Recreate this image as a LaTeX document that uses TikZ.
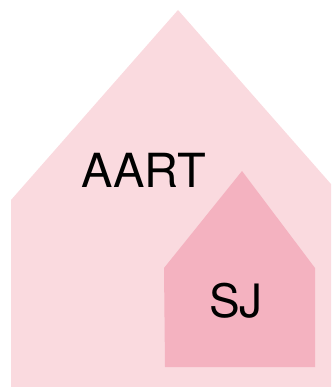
\documentclass[tikz,border=0pt]{standalone}
\usepackage{fontspec}
\setsansfont{TeX Gyre Heros}
\usepackage{tikz}
\usepackage{xcolor}
\usetikzlibrary{positioning}

\definecolor{housepale}{RGB}{250,218,223}
\definecolor{housepink}{RGB}{244,178,192}

\begin{document}
\begin{tikzpicture}[x=1pt, y=-1pt]
  \useasboundingbox (0,0) rectangle (331,387);
  \clip (0,0) rectangle (331,387);
  \fill[housepale] (11,387) -- (11,200) -- (178,10) -- (345,200) -- (345,387) -- cycle; %outer house
  \fill[housepink] (165,367) -- (164,268) -- (242,171) -- (315,268) -- (315,367) -- cycle; %inner house
  \node[font=\sffamily\fontsize{47}{47}\selectfont, inner sep=0pt] (aart) at (144,170) {AART};
  \node[font=\sffamily\fontsize{46}{46}\selectfont, inner sep=0pt] (sj) at (236,301) {SJ};
\end{tikzpicture}
\end{document}
